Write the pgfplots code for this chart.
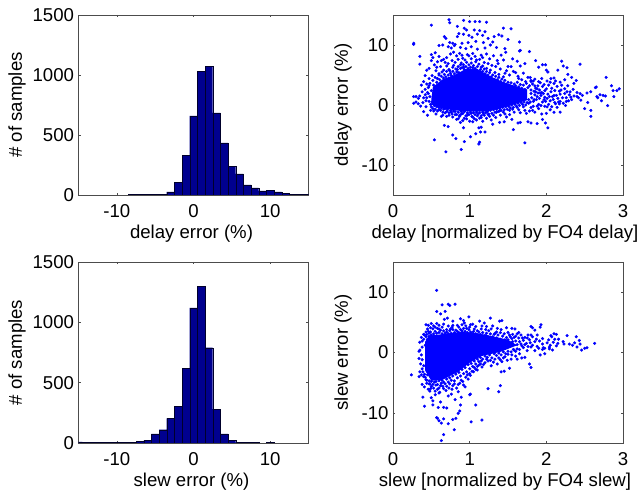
\documentclass[border=0pt]{standalone}
\usepackage{pgfplots}
\pgfplotsset{compat=1.18}
\usepackage{fontspec}
\setmainfont{Liberation Sans}
\definecolor{matbar}{rgb}{0,0,0.56}
\definecolor{axgray}{gray}{0.3}
\pgfplotsset{
  panel/.style={scale only axis,width=230pt,height=180pt,anchor=south west,
    axis line style={axgray,line width=0.7pt},
    tick style={axgray,line width=0.5pt},tickwidth=2.4pt,tick align=inside,
    xtick pos=both,ytick pos=both,
    tick label style={font=\fontsize{18.6}{21}\selectfont},
    label style={font=\fontsize{18.6}{21}\selectfont},
    xticklabel style={yshift=-6pt},
    yticklabel style={xshift=-1pt},
    scaled ticks=false,clip=true},
  hist/.style={panel,xmin=-15,xmax=15,ymin=0,ymax=1500,xtick={-10,0,10},
    xticklabels={-10,0,10},ytick={0,500,1000,1500},yticklabels={0,500,1000,1500},
    ylabel={\# of samples},xlabel style={yshift=0pt,xshift=-2pt},ylabel style={yshift=0pt}},
  scat/.style={panel,xmin=0,xmax=3,ymin=-15,ymax=15,xtick={0,1,2,3},
    xticklabels={0,1,2,3},ytick={-10,0,10},yticklabels={-10,0,10},
    xlabel style={yshift=0pt,xshift=-3pt},ylabel style={yshift=3pt}},
  pts/.style={only marks,mark=*,mark size=1.35pt,color=blue,mark options={draw=none,fill=blue}},
  bars/.style={ybar,bar width=1,bar shift=0pt,fill=matbar,draw=black!70!matbar,line width=0.3pt}
}
\begin{document}
\begin{tikzpicture}[x=1pt,y=1pt]
\path[use as bounding box] (0,0) rectangle (642,492);
% ---- top left
\begin{axis}[hist,at={(78.5pt,297pt)},xlabel={delay error (\%)}]
\addplot[bars] coordinates {(-8,4)(-7,4)(-6,8)(-5,4)(-4,8)(-3,25)(-2,105)(-1,330)(0,660)(1,1030)(2,1070)(3,685)(4,435)(5,240)(6,175)(7,85)(8,60)(9,35)(10,40)(11,25)(12,15)(13,8)(14,8)(15,6)};
\end{axis}
% ---- top right
\begin{axis}[scat,at={(393pt,297pt)},xlabel={delay [normalized by FO4 delay]},ylabel={delay error (\%)}]
\addplot[fill=blue,draw=none] coordinates {(.5,1)(.52,3)(.65,4.3)(.8,5)(.95,6)(1.1,6)(1.25,4.9)(1.4,4)(1.6,3.1)(1.75,2.6)(1.75,.8)(1.6,.2)(1.4,-.6)(1.2,-1.1)(1,-1.1)(.8,-.9)(.6,-.4)(.5,.1)} --cycle;
\addplot[pts] coordinates {
(.27,10.3)(.27,10.1)(.5,13.3)(.73,14.2)(.74,13.7)(.92,14.1)(.84,13.1)(1,13.9)(1.07,13.9)(1.13,13.9)(1.22,13.8)(.93,12.8)(.96,12.5)(1.06,12.5)(1.13,12.4)(1.2,12.2)(1.44,12.8)(1.54,12.7)
(.67,11.4)(.69,11.1)(.74,10.4)(.78,10.3)(.81,10.1)(.84,11.4)(.86,11.9)(.92,11.8)(.99,11.6)(1.03,11.3)(1.1,11.8)(1.17,11.6)(1.24,11.1)(1.32,11.4)(1.38,11.7)(1.42,11.5)(1.5,10.9)(1.3,10.5)(1.27,10)(1.18,10.4)(1.08,10.6)(.98,10.4)(.9,10.3)
(.6,9.9)(.65,10)(.72,9.7)(.76,9.5)(.8,9.9)(.88,9.6)(.95,9.4)(1.02,9.7)(1.1,9.3)(1.2,9.5)(1.35,9.6)(1.46,9.4)(1.65,10.5)(1.65,9)(1.78,8.9)(1.66,9.1)
(.5,8.4)(.55,8.7)(.6,8.1)(.66,7.6)(.7,7.9)(.75,8.5)(.79,8.8)(.83,8.2)(.87,8.6)(.91,7.8)(.97,8.4)(1.02,7.7)(1.07,8.1)(1.13,7.6)(1.17,7.9)(1.22,8.5)(1.26,7.7)(1.31,8.2)(1.36,7.4)(1.41,8.3)(1.47,8.8)(1.44,7.5)(1.37,6.9)(1.56,7.7)(1.62,7.3)(1.54,6.4)(1.66,6.5)(1.72,6.9)(1.86,7.4)(1.95,6.7)(1.99,6.7)(1.9,6.3)
(.35,8.1)(.35,6.8)(.47,6.1)(.5,7.4)(.54,6.7)(.58,7.2)(.62,6.4)(.56,5.7)(.6,5.2)(.66,5.8)(.7,6.5)(.74,5.7)(.78,6.3)(.84,5.9)(.88,6.7)(.92,6.3)(1.17,6.5)(1.22,6.1)(1.27,5.8)(1.33,5.4)(1.29,6.6)(1.38,5.1)(1.44,4.7)(1.48,5.7)(1.52,5)(1.6,5.4)(1.64,4.4)(1.7,5.3)(1.76,4.6)(1.8,4.1)(1.85,4.3)(2,5.8)(2.02,5.5)(2.1,4.5)(2.06,4.4)(2.2,7.3)(2.22,6.5)(2.27,6.2)(2.44,6.8)(2.28,5.1)(2.15,5.8)(2.33,4.6)(2.24,4.2)(2.36,3.6)(2.39,4.1)(2.78,4.6)
(.44,5.8)(.42,4.9)(.47,4.4)(.51,4.9)(.4,3.9)(.37,3.3)(.44,3.5)(.47,3.2)(.42,2.6)(.38,2.2)(.45,2.1)(.35,1.5)(.3,1.4)(.27,1.4)(.33,1.1)(.4,1.2)(.43,.7)(.39,.4)(.3,.5)(.27,.3)(.33,.2)(.36,-.2)(.43,-.3)(.4,-1.1)(.45,-1.7)(.49,-.9)(.53,-1)(.56,-1.5)(.6,-.8)(.63,-1.9)(.68,-1.3)(.73,-1.7)(.76,-1.2)(.81,-1.6)(.85,-2.3)(.89,-1.5)(.93,-2.2)(.97,-1.7)(1.02,-1.4)(1.06,-2.3)(1.1,-1.8)(1.15,-2.1)(1.18,-1.5)(1.24,-1.6)(1.28,-2.5)(1.31,-1.7)(1.35,-1.2)(1.39,-1)(1.44,-1.2)(1.48,-2)(1.52,-.9)(1.56,-.7)(1.62,-.4)(1.7,-.3)(1.66,-1.3)(1.74,-1.4)(1.8,-.4)(1.85,-1.2)(1.9,-.6)(1.94,-1.5)(1.98,-.2)(2,-1.4)(2.05,-.8)(2.1,-1.2)(2.14,-.4)(2.18,-1.2)
(.67,-3.4)(.72,-3.6)(.88,-2.9)(.92,-3.8)(1.04,-2.8)(1.12,-3.8)(1.15,-3.7)(1.14,-4.5)(1.2,-4.5)(1.3,-3.2)(1.39,-2.9)(1.45,-2.8)(1.55,-2.4)(1.57,-4.1)(1.63,-3)(1.76,-2.8)(1.8,-3)(1.88,-3.1)(1.99,-3)(2.02,-3.8)(1.95,-2.4)(1.66,-2.9)
(.54,-5.8)(.78,-5)(.82,-5.6)(.69,-7.8)(.89,-7.4)(.93,-6.1)(1.01,-5.3)(1.13,-6.2)(1.12,-6.5)(1.08,-4.8)(1.72,-6.3)
(1.8,3.9)(1.85,3.2)(1.88,2.7)(1.92,3.7)(1.95,3.1)(1.98,2.4)(2.03,3.3)(2.07,2.8)(2.1,3.6)(2.14,3.1)(2.17,2.3)(2.2,3.3)(2.24,2.7)(2.28,3.2)(2.31,2.2)(2.35,2.6)(2.4,2.1)(2.44,1.9)(2.47,1.6)(2.53,2)(2.58,2.2)(2.64,2.9)(2.65,3)(2.7,1.7)(2.74,1.6)(2.77,1.5)(2.66,1.4)(2.67,1.2)(2.72,.7)(2.8,-.1)(2.85,3.2)(2.87,2.4)(2.88,1.4)(2.92,2.4)(2.95,2.7)(2.54,.4)(2.5,-.6)(2.58,-.9)(2.58,-1.9)
(1.8,1.9)(1.84,.9)(1.88,1.4)(1.92,2)(1.95,.5)(1.98,1.3)(2.02,1.8)(2.05,.7)(2.08,1.4)(2.12,.2)(2.15,1.1)(2.18,1.8)(2.22,.3)(2.26,1.2)(2.3,1.7)(2.33,.9)(2.36,1.5)(2.4,1.4)(2.42,1.2)(2.45,.8)(2.26,.6)(2.18,.6)(2.1,1.6)(2,2.7)(1.9,.1)(1.83,-.2)(1.77,.3)(2.03,.1)(1.97,.9)(1.86,2.2)
(.46,2.9)(.48,3.6)(.5,2.4)(.52,4.1)(.53,3.3)(.55,4.6)(.57,3.8)(.58,4.4)(.6,5)(.61,4.2)(.63,4.8)(.64,5.5)(.66,4.5)(.67,5.1)(.69,4.7)(.7,5.6)(.72,5)(.73,5.9)(.75,5.3)(.76,4.9)(.78,5.6)(.79,6.6)(.8,5.2)(.82,6)(.83,5.5)(.85,6.4)(.86,5.4)(.88,6.1)(.89,7)(.9,6.2)(.92,6.7)(.93,5.9)(.95,6.4)(.96,7.1)(.98,6.1)(.99,6.7)(1.01,6.3)(1.02,7)(1.04,6.2)(1.05,6.6)(1.07,6.1)(1.08,7.2)(1.1,6.4)(1.12,6.8)(1.14,5.9)(1.15,6.3)(1.17,5.6)(1.19,6)(1.2,5.2)(1.22,5.6)(1.24,5)(1.26,5.4)(1.28,4.7)(1.3,5)(1.32,4.3)(1.34,4.8)(1.36,4.2)(1.38,4.6)(1.4,3.9)(1.42,4.3)(1.44,3.7)(1.46,4.1)(1.48,3.4)(1.5,3.8)(1.52,3.3)(1.54,3.7)(1.56,3.1)(1.58,3.5)(1.6,3.2)(1.62,3.8)(1.64,3)(1.66,3.4)(1.68,2.8)(1.7,3.3)(1.72,2.6)(1.74,3.6)(1.76,2.9)(1.78,3.2)(1.8,2.5)(1.82,3.5)(1.84,2.3)(1.86,2.8)(1.89,3.2)(1.91,2.5)(1.94,2.1)(1.97,3.4)
(.42,1.7)(.44,1.2)(.46,1.9)(.47,.6)(.48,1.4)(.49,.1)(.5,-.3)(.51,.5)(.52,-.6)(.54,-.1)(.55,-.7)(.57,-.3)(.58,-1)(.6,-.4)(.62,-.9)(.63,-.5)(.65,-1.2)(.66,-.7)(.68,-.6)(.7,-1.1)(.71,-.8)(.73,-1.3)(.75,-.9)(.77,-1.5)(.79,-1)(.81,-1.1)(.83,-1.6)(.85,-1.2)(.87,-1.7)(.89,-1.1)(.91,-1.4)(.93,-1.1)(.95,-1.8)(.97,-1.3)(.99,-1.6)(1.01,-1.2)(1.03,-1.9)(1.05,-1.3)(1.07,-1.6)(1.09,-1.2)(1.11,-1.5)(1.13,-1.3)(1.15,-1.8)(1.17,-1.2)(1.19,-1.7)(1.21,-1.3)(1.23,-1.1)(1.25,-1.5)(1.27,-.9)(1.29,-1.4)(1.31,-.8)(1.33,-1.2)(1.35,-.7)(1.37,-1.1)(1.39,-.6)(1.41,-.9)(1.43,-.4)(1.45,-.8)(1.47,-.3)(1.49,-.7)(1.51,-.2)(1.53,-.5)(1.55,0)(1.57,-.4)(1.59,.1)(1.61,-.2)(1.63,.3)(1.65,-.1)(1.67,.4)(1.69,.1)(1.71,.5)(1.73,0)(1.75,.4)(1.77,.9)(1.79,.5)(1.81,1.2)(1.83,.6)(1.85,1.7)(1.87,.9)(1.89,2)(1.91,1.1)(1.93,1.6)(1.96,1.9)(1.99,.6)(2.01,1.1)(2.04,1.4)(2.06,2.2)(2.09,.9)(2.11,2.4)(2.13,1.6)(2.16,.5)(2.19,2.5)(2.21,1.2)(2.24,1.9)(2.27,2.2)(2.29,.7)(2.32,1.3)
(.52,7.9)(.57,6.3)(.63,7.4)(.68,7.1)(.72,6.9)(.77,7.4)(.81,7.1)(.85,7.6)(.9,8.3)(.94,7.5)(.99,8.2)(1.04,8.6)(1.09,7.5)(1.15,8.3)(1.19,7.1)(1.24,6.9)(1.34,6.4)(1.4,6)(1.46,5.3)(1.5,6.4)(1.57,5.6)(1.63,4.8)(1.68,4.2)(1.73,3.9)(1.79,4.6)(1.83,4)(1.9,3.9)(1.94,4.4)(2.01,4)(2.05,3.8)(2.12,4)(2.18,3.8)
(.65,-1.7)(.7,-1.9)(.78,-2)(.83,-2.4)(.87,-1.9)(.91,-2.6)(.96,-2.3)(1,-2.7)(1.04,-2)(1.09,-2.5)(1.13,-2.2)(1.17,-2.7)(1.22,-2.2)(1.26,-1.9)(1.34,-2.1)(1.4,-1.7)(1.46,-1.5)(1.52,-1.6)(1.58,-1.2)(1.64,-.8)(1.72,-.9)(1.78,-1)(1.82,-.9)(1.88,-.2)(1.93,-.1)(2.01,-.3)(2.07,-.3)(2.11,.4)(2.17,.2)(2.25,-.1)
};
\end{axis}
% ---- bottom left
\begin{axis}[hist,at={(78.5pt,49pt)},height=181pt,xlabel={slew error (\%)}]
\addplot[bars] coordinates {(-15,10)(-14,3)(-13,3)(-12,3)(-11,5)(-10,3)(-9,4)(-8,5)(-7,13)(-6,20)(-5,75)(-4,110)(-3,205)(-2,305)(-1,620)(0,1120)(1,1300)(2,790)(3,280)(4,75)(5,20)(6,5)(7,3)(8,3)(10,3)};
\end{axis}
% ---- bottom right
\begin{axis}[scat,at={(393pt,49pt)},height=181pt,xlabel={slew [normalized by FO4 slew]},ylabel={slew error (\%)}]
\addplot[fill=blue,draw=none] coordinates {(.42,-3)(.42,1.8)(.47,2.8)(.7,3.1)(.9,3.4)(1.1,3.2)(1.3,2.7)(1.5,2.1)(1.62,1.2)(1.4,.1)(1.15,-.6)(1,-1.7)(.85,-3.2)(.65,-4.5)(.5,-4.7)} --cycle;
\addplot[pts] coordinates {
(.57,10.3)(.57,6.8)(.64,7.9)(.72,8)(.74,7.8)(.81,8)(.62,6.4)(.68,6.8)(.67,5.5)(.71,5.7)(.78,5.2)(.78,4.5)(.88,5.6)(.92,5.3)(.99,5.9)(.93,4.9)(1.01,4.6)(1.04,4.7)(1.13,5.2)(1.19,4.9)(1.27,5.7)(1.39,5.2)(1.42,5.3)(1.22,4.3)(1.3,4.4)(1.36,4)(1.48,4.1)(1.55,4)(1.59,3.9)(1.64,3.3)(1.8,4.3)(1.82,4.1)(1.93,4.6)(1.92,4.2)(1.85,3.7)
(.43,4.6)(.46,4.5)(.5,4.8)(.53,4.4)(.57,4.8)(.6,3.9)(.64,4.2)(.7,3.8)(.75,3.9)(.82,3.7)(.86,4.2)(.9,3.6)(.96,4)(1.06,3.9)(1.1,3.6)(1.15,3.9)(1.25,3.6)(1.33,3.2)(1.4,3.3)(1.45,3.1)(1.52,2.9)(1.6,2.7)(1.67,2.9)(1.72,2.5)(1.76,2.9)(1.82,2.6)(1.88,2.9)(1.95,2.3)
(.37,2.5)(.4,3)(.43,3.4)(.47,3.2)(.35,1.7)(.38,.9)(.35,.4)(.34,.2)(.37,-.4)(.34,-1)(.38,-1.2)(.36,-1.9)(.4,-2.2)(.35,-3.2)(.37,-3.7)(.34,-4)(.4,-4)(.24,-3.7)(.38,-5.3)(.43,-4.5)(.41,-5.7)(.44,-5.1)(.47,-5.2)(.46,-6.1)(.5,-5.6)(.48,-6.4)(.53,-5.9)(.56,-5.4)(.6,-5.9)(.63,-5.1)(.66,-6)(.7,-5.6)(.74,-5.2)(.77,-6.1)(.8,-5.2)(.85,-5.3)(.89,-4.6)(.92,-5.4)(.95,-4.1)(.98,-4.4)(1.01,-3.8)(1.05,-3.2)(1.08,-2.8)(1.12,-2.1)(1.16,-2.4)(1.2,-1.7)(1.24,-1.4)(1.28,-2.2)(1.33,-1.1)(1.38,-.9)(1.42,-1.5)(1.46,-.7)(1.5,-.3)(1.54,-1.1)(1.6,-.6)(1.68,-.9)(1.62,-1.1)(1.72,-.8)(1.78,-1.9)(1.8,-2.5)(1.52,-2.6)(1.45,-3.1)(1.41,-3.2)(1.4,-5.5)(1.38,-6.5)(1.24,-6)(1.1,-2.9)(1.15,-1.4)
(.39,-7.4)(.41,-8.9)(.5,-7.5)(.52,-8)(.52,-8.7)(.55,-7)(.6,-6.7)(.62,-8.2)(.59,-9.1)(.66,-9.1)(.7,-9.2)(.72,-7.2)(.76,-6.9)(.81,-7.8)(.85,-6.5)(.89,-7.4)(.88,-8.7)(.87,-9.7)(.85,-10.1)(1.01,-6.9)(1,-7)(1.08,-8.7)(.58,-10.9)(.6,-11.3)(.63,-11.7)(.66,-11)(.72,-11.8)(.78,-11.1)(.82,-10.9)(1.02,-11.5)(1.16,-11.2)(.8,-12.8)(.66,-13.6)(.63,-14.6)(.57,-10.8)
(1.55,2.3)(1.6,1.9)(1.64,2.4)(1.67,1.4)(1.7,2)(1.74,1.5)(1.78,2.1)(1.82,1.2)(1.85,1.8)(1.88,1)(1.91,1.9)(1.95,1.4)(1.98,.7)(2.01,1.6)(2.03,2.1)(2.05,1.2)(2.07,2.6)(2.09,1.7)(2.11,2.2)(2.13,3)(2.06,2.8)(2.15,1.5)(2.04,.9)(2.1,3.1)(2.13,1.1)(2.16,2.2)(2.22,1.8)(2.23,1.4)(2.27,2.8)(2.3,1.4)(2.34,1.2)(2.37,1.6)(2.39,2.6)(2.43,2)(2.4,.9)(2.44,1.4)(2.46,.4)(2.5,.7)(2.53,.8)(2.63,1.5)(1.65,.5)(1.7,.8)(1.75,.3)(1.8,.9)(1.85,.3)(1.9,.7)(1.95,.5)(1.98,-.2)(1.92,-.4)(1.96,.8)(2.04,.6)(2.08,.4)(1.6,.2)(1.58,.4)
(.38,1.9)(.4,2.2)(.41,2.9)(.42,1.2)(.43,2.6)(.44,3)(.45,2.2)(.46,3.5)(.47,2.7)(.49,3.4)(.5,2.9)(.52,3.9)(.53,3.1)(.55,3.5)(.57,3.2)(.58,4)(.6,3.3)(.62,3.7)(.64,3.1)(.66,3.6)(.68,3.2)(.7,3.4)(.72,3.1)(.74,3.6)(.76,3.2)(.78,3.8)(.8,3.3)(.82,3.1)(.84,3.5)(.86,3.3)(.88,3.8)(.9,3.4)(.92,4)(.94,3.5)(.97,3.3)(.99,3.8)(1.01,3.4)(1.03,3.2)(1.05,3.5)(1.08,3.1)(1.12,3.4)(1.14,3)(1.17,3.3)(1.2,2.8)(1.22,3.2)(1.24,2.6)(1.27,3.1)(1.3,2.6)(1.32,3)(1.35,2.4)(1.37,2.9)(1.4,2.2)(1.43,2.7)(1.46,2.1)(1.48,2.5)(1.5,2.1)(1.53,2.6)(1.56,1.8)(1.58,2.5)(1.62,1.3)(1.65,1.8)(1.68,1.1)(1.72,1.3)(1.76,1)(1.79,1.6)
(.38,-2.7)(.39,-3.2)(.41,-3.6)(.42,-4.1)(.44,-4.6)(.45,-3.7)(.47,-4.7)(.48,-5.2)(.5,-4.8)(.52,-5.3)(.54,-4.9)(.56,-4.8)(.58,-5.3)(.6,-4.7)(.62,-5.5)(.64,-4.6)(.66,-4.9)(.68,-5.2)(.7,-4.4)(.72,-4.9)(.74,-4.2)(.76,-4.6)(.78,-3.9)(.8,-4.7)(.82,-3.6)(.84,-4.2)(.86,-3.3)(.88,-3.9)(.9,-2.8)(.92,-3.5)(.94,-2.5)(.96,-3.2)(.98,-2)(1,-2.7)(1.02,-1.8)(1.04,-2.3)(1.06,-1.4)(1.08,-1.9)(1.1,-1.1)(1.12,-1.5)(1.14,-.8)(1.17,-1.1)(1.2,-.6)(1.23,-.8)(1.26,-.4)(1.29,-.9)(1.32,-.2)(1.35,-.5)(1.38,-.1)(1.41,-.4)(1.44,.1)(1.47,-.2)(1.5,.2)(1.54,.1)(1.57,.5)(1.62,.6)
(.49,-6)(.55,-6.4)(.58,-6.1)(.61,-6.6)(.65,-5.6)(.69,-6.3)(.73,-5.9)(.78,-5.5)(.83,-5.9)(.87,-5.1)(.91,-4.8)(.94,-5.7)(.97,-3.7)(1,-3.5)(1.03,-3.1)(1.06,-2.5)(1.1,-2.3)(1.14,-1.9)(1.18,-2)(1.22,-1.1)(1.27,-1.3)(1.31,-1.6)(1.36,-1.9)(1.4,-1.2)(1.44,-.9)(1.49,-1.3)(1.55,-.4)(1.65,-.2)
(.45,3.9)(.49,4.1)(.55,4.2)(.6,4.5)(.66,4.7)(.72,4.4)(.77,4.2)(.84,4.5)(.9,4.6)(.95,4.4)(1,4.2)(1.08,4.3)(1.16,4.4)(1.21,3.8)(1.28,3.9)(1.35,3.4)(1.41,3.8)(1.5,3.3)(1.56,3)(1.62,3.1)(1.69,2.4)(1.75,2.4)(1.8,2.9)(1.87,2.2)
};
\end{axis}
\end{tikzpicture}
\end{document}
